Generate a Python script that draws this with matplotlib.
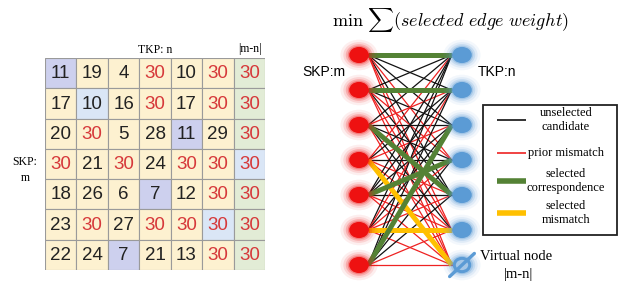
import matplotlib.pyplot as plt
import numpy as np
from matplotlib.patches import Rectangle, Ellipse
from matplotlib.lines import Line2D

# --- data ---
cost = np.array([
    [11, 19, 4, 30, 10, 30, 30],
    [17, 10, 16, 30, 17, 30, 30],
    [20, 30, 5, 28, 11, 29, 30],
    [30, 21, 30, 24, 30, 30, 30],
    [18, 26, 6, 7, 12, 30, 30],
    [23, 30, 27, 30, 30, 30, 30],
    [22, 24, 7, 21, 13, 30, 30],
])
# selected column per SKP row (last column = virtual node |m-n|)
selected = [0, 1, 4, 6, 3, 5, 2]
mismatch_value = 30

legend_labels = ['unselected\ncandidate', 'prior mismatch',
                 'selected\ncorrespondence', 'selected\nmismatch']

W, H = 626, 282
fig = plt.figure(figsize=(W / 100, H / 100), dpi=100)
fig.patch.set_facecolor('white')

# colours
BEIGE = '#fdf1d0'
GREEN_COL = '#e2ecd6'
LAVENDER = '#cdd0ee'
LIGHTBLUE = '#dae6f6'
RED_TXT = '#d6383a'
BLACK_TXT = '#222222'
EDGE_BLACK = '#111111'
EDGE_RED = '#ee2222'
SEL_GREEN = '#548235'
SEL_YELLOW = '#ffc000'
NODE_RED = '#ee1111'
NODE_BLUE = '#5b9bd5'

n_rows, n_cols = cost.shape

# --- left: cost matrix ---
axm = fig.add_axes([45 / W, 1 - 270 / H, 220 / W, 212 / H])
axm.set_xlim(0, n_cols)
axm.set_ylim(n_rows, 0)
axm.axis('off')
for i in range(n_rows):
    for j in range(n_cols):
        if selected[i] == j:
            fc = LAVENDER if i % 2 == 0 else LIGHTBLUE
        elif j == n_cols - 1:
            fc = GREEN_COL
        else:
            fc = BEIGE
        axm.add_patch(Rectangle((j, i), 1, 1, facecolor=fc, edgecolor='#9a9a9a', lw=0.8))
        v = cost[i, j]
        axm.text(j + 0.5, i + 0.52, str(v), ha='center', va='center',
                 fontsize=13.5, family='Liberation Sans',
                 color=RED_TXT if v == mismatch_value else BLACK_TXT)

fig.text(155 / W, 1 - 50 / H, 'TKP: n', ha='center', va='center',
         fontsize=8.5, family='Liberation Serif')
fig.text(250 / W, 1 - 49 / H, '|m-n|', ha='center', va='center',
         fontsize=8.5, family='Liberation Serif')
fig.text(25 / W, 1 - 170 / H, 'SKP:\nm', ha='center', va='center',
         fontsize=8.5, family='Liberation Serif', linespacing=1.4)

# --- right: bipartite graph ---
x0, x1 = 359, 462
y0, step = 55, 35
axg = fig.add_axes([300 / W, 0, 326 / W, 1])
axg.set_xlim((300 - x0) / (x1 - x0), (626 - x0) / (x1 - x0))
axg.set_ylim((282 - y0) / step, (0 - y0) / step)
axg.axis('off')

xs, xe = 0.09, 0.90
rows = np.arange(n_rows)
# unselected edges
for i in rows:
    for j in range(n_cols):
        if selected[i] == j:
            continue
        c = EDGE_RED if cost[i, j] == mismatch_value else EDGE_BLACK
        axg.plot([xs, xe], [i, j], color=c, lw=0.9, zorder=2)
# selected edges
for i in rows:
    j = selected[i]
    c = SEL_YELLOW if cost[i, j] == mismatch_value else SEL_GREEN
    axg.plot([xs, xe], [i, j], color=c, lw=3.6, zorder=3, solid_capstyle='butt')

# nodes with glow
nw, nh = 0.19, 0.46
glow = [(1.9, 0.07), (1.6, 0.12), (1.35, 0.2), (1.15, 0.3)]
for i in rows:
    for k, a in glow:
        axg.add_patch(Ellipse((0, i), nw * k, nh * k, color=NODE_RED, alpha=a, lw=0, zorder=4))
    axg.add_patch(Ellipse((0, i), nw, nh, color=NODE_RED, lw=0, zorder=5))
for j in range(n_cols):
    for k, a in glow:
        axg.add_patch(Ellipse((1, j), nw * k, nh * k, color=NODE_BLUE, alpha=a, lw=0, zorder=4))
    if j < n_cols - 1:
        axg.add_patch(Ellipse((1, j), nw, nh, color=NODE_BLUE, lw=0, zorder=5))
    else:
        axg.add_patch(Ellipse((1, j), 0.15, 0.38, facecolor='none', edgecolor=NODE_BLUE, lw=2.2, zorder=5))
        axg.plot([0.88, 1.12], [j + 0.33, j - 0.33], color=NODE_BLUE, lw=2.4, zorder=5,
                 solid_capstyle='round')

axg.text(-0.13, 0.5, 'SKP:m', ha='right', va='center', fontsize=10, family='Liberation Sans')
axg.text(1.15, 0.5, 'TKP:n', ha='left', va='center', fontsize=10, family='Liberation Sans')
axg.text(1.17, 5.75, 'Virtual node', ha='left', va='center', fontsize=10.5, family='Liberation Serif')
axg.text(1.55, 6.27, '|m-n|', ha='center', va='center', fontsize=10.5, family='Liberation Serif')

fig.text(450 / W, 1 - 20 / H, r'$\min\ \sum(\mathit{selected\ edge\ weight})$',
         ha='center', va='center', fontsize=13, math_fontfamily='cm')

# --- legend box (drawn by hand so the labels are centred) ---
def fx(px):
    return px / W

def fy(py):
    return 1 - py / H

fig.add_artist(Rectangle((fx(483), fy(235)), fx(617) - fx(483), fy(105) - fy(235),
                         transform=fig.transFigure, facecolor='white',
                         edgecolor='#222222', lw=1.3, zorder=10))
leg_styles = [(EDGE_BLACK, 1.2), (EDGE_RED, 1.2), (SEL_GREEN, 4), (SEL_YELLOW, 4)]
leg_y = [120, 153, 181, 213]
for (c, lw), lab, py in zip(leg_styles, legend_labels, leg_y):
    fig.add_artist(Line2D([fx(497), fx(526)], [fy(py), fy(py)], transform=fig.transFigure,
                          color=c, lw=lw, solid_capstyle='butt', zorder=11))
    fig.text(fx(566), fy(py), lab, ha='center', va='center', multialignment='center',
             fontsize=9, family='Liberation Serif', linespacing=1.15, zorder=11)

fig.savefig('out.png', dpi=100, facecolor='white')
